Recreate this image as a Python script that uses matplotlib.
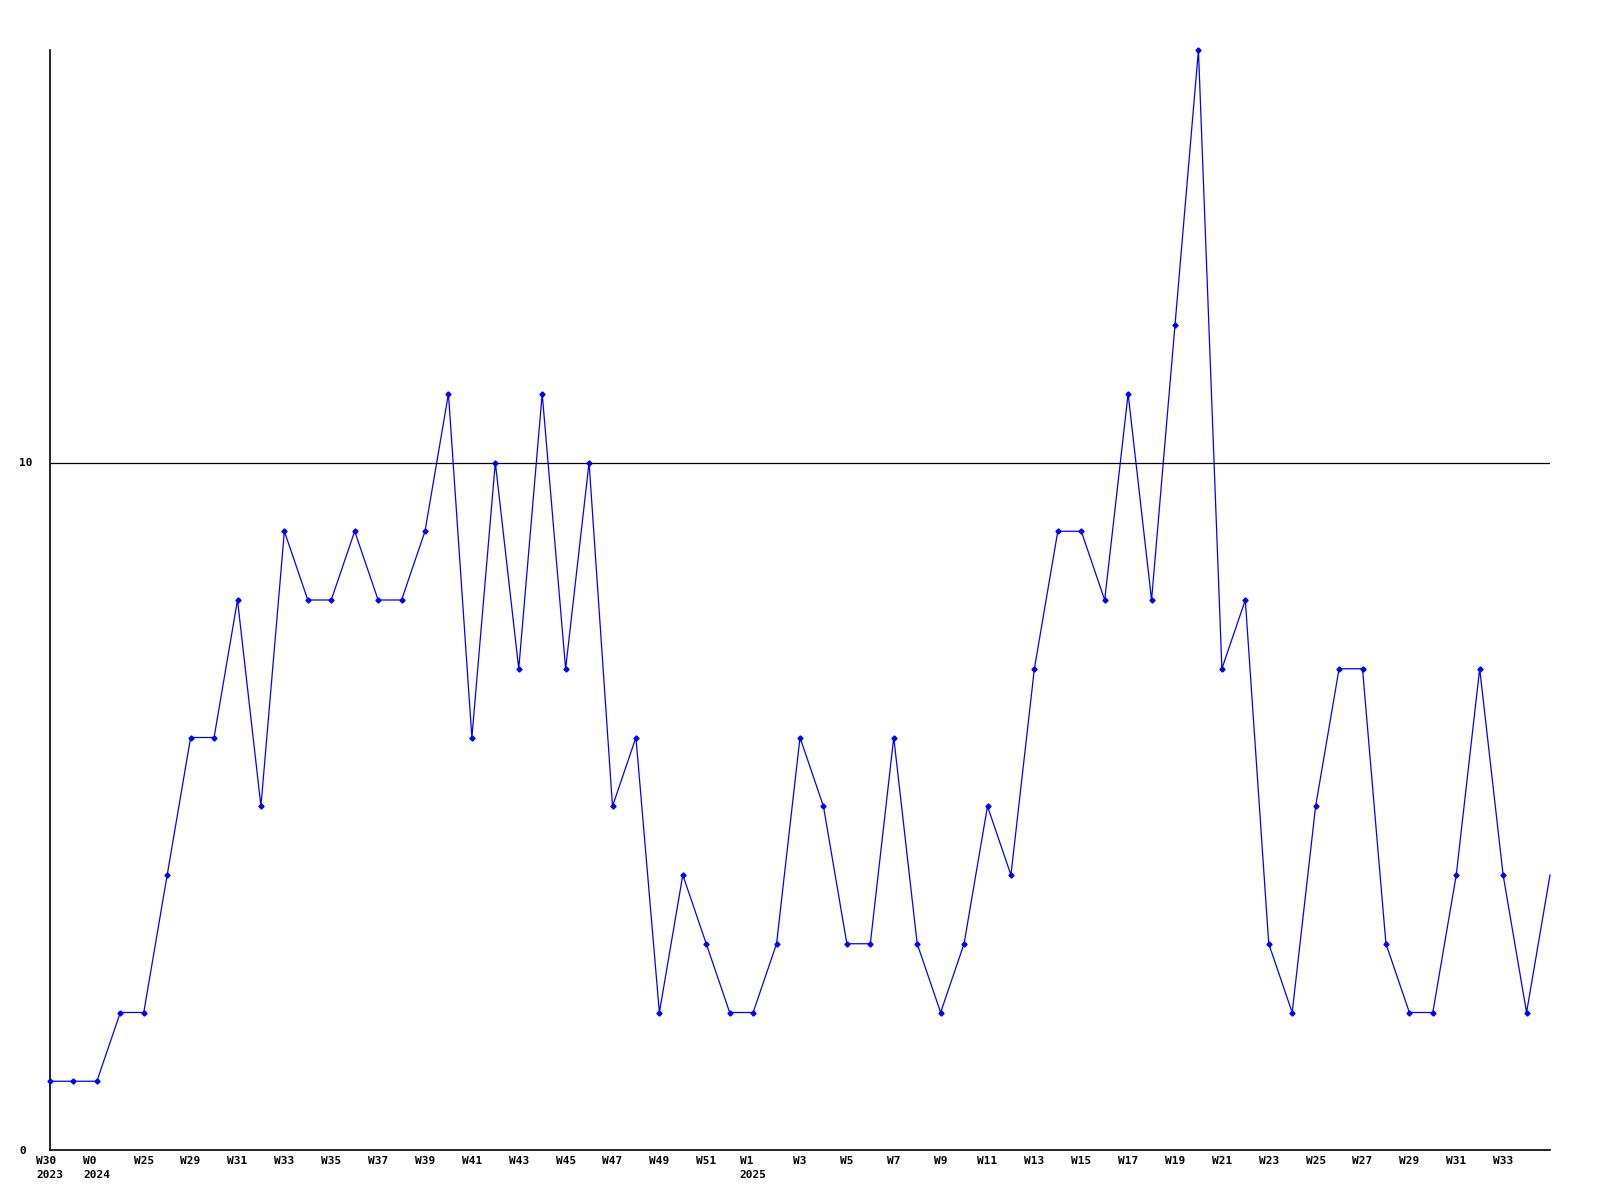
import matplotlib
matplotlib.use("Agg")
import matplotlib.pyplot as plt
import numpy as np

# weekly counts, one point per week
counts = [1, 1, 1, 2, 2, 4, 6, 6, 8, 5, 9, 8, 8, 9, 8, 8, 9, 11, 6, 10,
          7, 11, 7, 10, 5, 6, 2, 4, 3, 2, 2, 3, 6, 5, 3, 3, 6, 3, 2, 3,
          5, 4, 7, 9, 9, 8, 11, 8, 12, 16, 7, 8, 3, 2, 5, 7, 7, 3, 2, 2,
          4, 7, 4, 2, 4]
# labels on every second week
week_labels = ["W30\n2023", "W0\n2024", "W25", "W29", "W31", "W33", "W35", "W37",
               "W39", "W41", "W43", "W45", "W47", "W49", "W51", "W1\n2025",
               "W3", "W5", "W7", "W9", "W11", "W13", "W15", "W17", "W19",
               "W21", "W23", "W25", "W27", "W29", "W31", "W33"]
ref_level = 10
y_top = 16

plt.rcParams['font.family'] = ['DejaVu Sans Mono']
plt.rcParams['font.weight'] = 'bold'

fig = plt.figure(figsize=(16, 12), dpi=100)
ax = fig.add_axes([50 / 1600, 50 / 1200, 1500 / 1600, 1100 / 1200])

x = np.arange(len(counts))
ax.plot(x, counts, color="#0000ff", lw=0.9, marker="D", ms=2.6,
        markevery=list(range(len(counts) - 1)), clip_on=False, zorder=3)
ax.axhline(ref_level, color="black", lw=0.9, zorder=2)

ax.set_xlim(0, len(counts) - 1)
ax.set_ylim(0, y_top)

ax.set_xticks(x[::2][:len(week_labels)])
ax.set_xticklabels(week_labels, fontsize=8, fontweight="bold",
                   multialignment="left", linespacing=1.5)
ax.set_yticks([0, ref_level])
ax.set_yticklabels(["0", "10"], fontsize=8, fontweight="bold", ha="left")
ax.tick_params(axis="x", length=0, pad=4)
ax.tick_params(axis="y", length=0, pad=22)

for side in ["top", "right"]:
    ax.spines[side].set_visible(False)
for side in ["left", "bottom"]:
    ax.spines[side].set_linewidth(1.2)

plt.savefig("out.png", dpi=100)
